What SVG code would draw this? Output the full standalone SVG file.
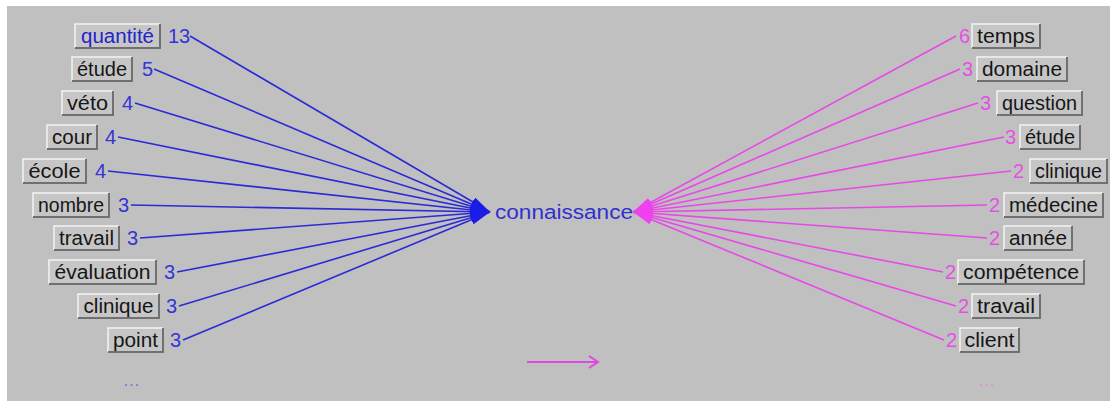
<svg xmlns="http://www.w3.org/2000/svg" width="1110" height="401" viewBox="0 0 1110 401">
<defs>
<style>
.face{fill:#c6c6c6}
.hi{fill:none;stroke:#f4f4f4;stroke-width:1.5}
.sh{fill:none;stroke:#707070;stroke-width:2}
.lbl{font-family:"Liberation Sans",Arial,sans-serif;font-size:20px;fill:#161616;text-anchor:middle}
.nb{font-family:"Liberation Sans",Arial,sans-serif;font-size:20px;fill:#3434d8}
.nm{font-family:"Liberation Sans",Arial,sans-serif;font-size:20px;fill:#e450e4;text-anchor:end}
.bl{stroke:#2a2ad6;stroke-width:1.6;fill:none}
.mg{stroke:#e848e8;stroke-width:1.6;fill:none}
</style>
<marker id="ab" markerUnits="userSpaceOnUse" markerWidth="20" markerHeight="10" refX="20" refY="5" orient="auto"><path d="M0,0 L20,5 L0,10 z" fill="#1c1ce6"/></marker>
<marker id="am" markerUnits="userSpaceOnUse" markerWidth="20" markerHeight="10" refX="20" refY="5" orient="auto"><path d="M0,0 L20,5 L0,10 z" fill="#f040f0"/></marker>
</defs>
<rect width="1110" height="401" fill="#ffffff"/>
<rect x="7" y="6" width="1103" height="395" fill="#c0c0c0"/>

<g id="connectors">
<line class="bl" x1="190" y1="36" x2="490" y2="212" marker-end="url(#ab)"/>
<line class="bl" x1="154" y1="69" x2="490" y2="212" marker-end="url(#ab)"/>
<line class="bl" x1="135" y1="103" x2="490" y2="212" marker-end="url(#ab)"/>
<line class="bl" x1="118" y1="137" x2="490" y2="212" marker-end="url(#ab)"/>
<line class="bl" x1="108" y1="171" x2="490" y2="212" marker-end="url(#ab)"/>
<line class="bl" x1="131" y1="205" x2="490" y2="212" marker-end="url(#ab)"/>
<line class="bl" x1="140" y1="238" x2="490" y2="212" marker-end="url(#ab)"/>
<line class="bl" x1="177" y1="272" x2="490" y2="212" marker-end="url(#ab)"/>
<line class="bl" x1="179" y1="306" x2="490" y2="212" marker-end="url(#ab)"/>
<line class="bl" x1="183" y1="340" x2="490" y2="212" marker-end="url(#ab)"/>

<line class="mg" x1="956" y1="36" x2="633" y2="212" marker-end="url(#am)"/>
<line class="mg" x1="960" y1="69" x2="633" y2="212" marker-end="url(#am)"/>
<line class="mg" x1="978" y1="103" x2="633" y2="212" marker-end="url(#am)"/>
<line class="mg" x1="1004" y1="137" x2="633" y2="212" marker-end="url(#am)"/>
<line class="mg" x1="1011" y1="171" x2="633" y2="212" marker-end="url(#am)"/>
<line class="mg" x1="987" y1="205" x2="633" y2="212" marker-end="url(#am)"/>
<line class="mg" x1="987" y1="238" x2="633" y2="212" marker-end="url(#am)"/>
<line class="mg" x1="943" y1="272" x2="633" y2="212" marker-end="url(#am)"/>
<line class="mg" x1="956" y1="306" x2="633" y2="212" marker-end="url(#am)"/>
<line class="mg" x1="944" y1="340" x2="633" y2="212" marker-end="url(#am)"/>
</g>

<g id="center">
<text x="495" y="219" font-family="'Liberation Sans',Arial,sans-serif" font-size="20" fill="#3030d0" textLength="138" lengthAdjust="spacingAndGlyphs">connaissance</text>
</g>

<g id="l1"><rect class="face" x="75" y="24" width="85" height="24"/><path class="hi" d="M75,48V24H160"/><path class="sh" d="M75,48H160V24"/><text class="lbl" x="117.5" y="43" textLength="73" lengthAdjust="spacingAndGlyphs" style="fill:#2424c8">quantité</text><text class="nb" x="168" y="43">13</text></g>
<g id="l2"><rect class="face" x="72" y="57" width="60" height="24"/><path class="hi" d="M72,81V57H132"/><path class="sh" d="M72,81H132V57"/><text class="lbl" x="102" y="76" textLength="50" lengthAdjust="spacingAndGlyphs">étude</text><text class="nb" x="142" y="76">5</text></g>
<g id="l3"><rect class="face" x="62" y="91" width="51" height="24"/><path class="hi" d="M62,115V91H113"/><path class="sh" d="M62,115H113V91"/><text class="lbl" x="87.5" y="110" textLength="41" lengthAdjust="spacingAndGlyphs">véto</text><text class="nb" x="122" y="110">4</text></g>
<g id="l4"><rect class="face" x="47" y="125" width="50" height="24"/><path class="hi" d="M47,149V125H97"/><path class="sh" d="M47,149H97V125"/><text class="lbl" x="72" y="144" textLength="40" lengthAdjust="spacingAndGlyphs">cour</text><text class="nb" x="105" y="144">4</text></g>
<g id="l5"><rect class="face" x="23" y="159" width="63" height="24"/><path class="hi" d="M23,183V159H86"/><path class="sh" d="M23,183H86V159"/><text class="lbl" x="54.5" y="178" textLength="52" lengthAdjust="spacingAndGlyphs">école</text><text class="nb" x="95" y="178">4</text></g>
<g id="l6"><rect class="face" x="33" y="193" width="76" height="24"/><path class="hi" d="M33,217V193H109"/><path class="sh" d="M33,217H109V193"/><text class="lbl" x="71" y="212" textLength="66" lengthAdjust="spacingAndGlyphs">nombre</text><text class="nb" x="118" y="212">3</text></g>
<g id="l7"><rect class="face" x="54" y="226" width="65" height="24"/><path class="hi" d="M54,250V226H119"/><path class="sh" d="M54,250H119V226"/><text class="lbl" x="86.5" y="245" textLength="55" lengthAdjust="spacingAndGlyphs">travail</text><text class="nb" x="127" y="245">3</text></g>
<g id="l8"><rect class="face" x="49" y="260" width="107" height="24"/><path class="hi" d="M49,284V260H156"/><path class="sh" d="M49,284H156V260"/><text class="lbl" x="102.5" y="279" textLength="96" lengthAdjust="spacingAndGlyphs">évaluation</text><text class="nb" x="164" y="279">3</text></g>
<g id="l9"><rect class="face" x="78" y="294" width="81" height="24"/><path class="hi" d="M78,318V294H159"/><path class="sh" d="M78,318H159V294"/><text class="lbl" x="118.5" y="313" textLength="70" lengthAdjust="spacingAndGlyphs">clinique</text><text class="nb" x="166" y="313">3</text></g>
<g id="l10"><rect class="face" x="108" y="328" width="55" height="24"/><path class="hi" d="M108,352V328H163"/><path class="sh" d="M108,352H163V328"/><text class="lbl" x="135.5" y="347" textLength="45" lengthAdjust="spacingAndGlyphs">point</text><text class="nb" x="170" y="347">3</text></g>
<g id="lmore"><text x="132" y="386" font-family="'Liberation Sans',Arial,sans-serif" font-size="16" fill="#6a6ae0" text-anchor="middle" letter-spacing="1">...</text></g>

<g id="r1"><rect class="face" x="972" y="24" width="68" height="24"/><path class="hi" d="M972,48V24H1040"/><path class="sh" d="M972,48H1040V24"/><text class="lbl" x="1006" y="43" textLength="58" lengthAdjust="spacingAndGlyphs">temps</text><text class="nm" x="970" y="43">6</text></g>
<g id="r2"><rect class="face" x="977" y="57" width="90" height="24"/><path class="hi" d="M977,81V57H1067"/><path class="sh" d="M977,81H1067V57"/><text class="lbl" x="1022" y="76" textLength="80" lengthAdjust="spacingAndGlyphs">domaine</text><text class="nm" x="973" y="76">3</text></g>
<g id="r3"><rect class="face" x="997" y="91" width="85" height="24"/><path class="hi" d="M997,115V91H1082"/><path class="sh" d="M997,115H1082V91"/><text class="lbl" x="1039.5" y="110" textLength="75" lengthAdjust="spacingAndGlyphs">question</text><text class="nm" x="991" y="110">3</text></g>
<g id="r4"><rect class="face" x="1020" y="125" width="60" height="24"/><path class="hi" d="M1020,149V125H1080"/><path class="sh" d="M1020,149H1080V125"/><text class="lbl" x="1050" y="144" textLength="50" lengthAdjust="spacingAndGlyphs">étude</text><text class="nm" x="1016" y="144">3</text></g>
<g id="r5"><rect class="face" x="1030" y="159" width="77" height="24"/><path class="hi" d="M1030,183V159H1107"/><path class="sh" d="M1030,183H1107V159"/><text class="lbl" x="1068.5" y="178" textLength="67" lengthAdjust="spacingAndGlyphs">clinique</text><text class="nm" x="1024" y="178">2</text></g>
<g id="r6"><rect class="face" x="1004" y="193" width="99" height="24"/><path class="hi" d="M1004,217V193H1103"/><path class="sh" d="M1004,217H1103V193"/><text class="lbl" x="1053.5" y="212" textLength="89" lengthAdjust="spacingAndGlyphs">médecine</text><text class="nm" x="1000" y="212">2</text></g>
<g id="r7"><rect class="face" x="1004" y="226" width="68" height="24"/><path class="hi" d="M1004,250V226H1072"/><path class="sh" d="M1004,250H1072V226"/><text class="lbl" x="1038" y="245" textLength="58" lengthAdjust="spacingAndGlyphs">année</text><text class="nm" x="1000" y="245">2</text></g>
<g id="r8"><rect class="face" x="958" y="260" width="126" height="24"/><path class="hi" d="M958,284V260H1084"/><path class="sh" d="M958,284H1084V260"/><text class="lbl" x="1021" y="279" textLength="116" lengthAdjust="spacingAndGlyphs">compétence</text><text class="nm" x="956" y="279">2</text></g>
<g id="r9"><rect class="face" x="972" y="294" width="68" height="24"/><path class="hi" d="M972,318V294H1040"/><path class="sh" d="M972,318H1040V294"/><text class="lbl" x="1006" y="313" textLength="58" lengthAdjust="spacingAndGlyphs">travail</text><text class="nm" x="969" y="313">2</text></g>
<g id="r10"><rect class="face" x="960" y="328" width="59" height="24"/><path class="hi" d="M960,352V328H1019"/><path class="sh" d="M960,352H1019V328"/><text class="lbl" x="989.5" y="347" textLength="50" lengthAdjust="spacingAndGlyphs">client</text><text class="nm" x="957" y="347">2</text></g>
<g id="rmore"><text x="987" y="386" font-family="'Liberation Sans',Arial,sans-serif" font-size="16" fill="#d890d8" text-anchor="middle" letter-spacing="1">...</text></g>

<g id="legend-arrow">
<line x1="527" y1="362" x2="597" y2="362" stroke="#e048e0" stroke-width="2"/>
<polyline points="589,356 598,362 589,368" fill="none" stroke="#e048e0" stroke-width="2"/>
</g>
</svg>
